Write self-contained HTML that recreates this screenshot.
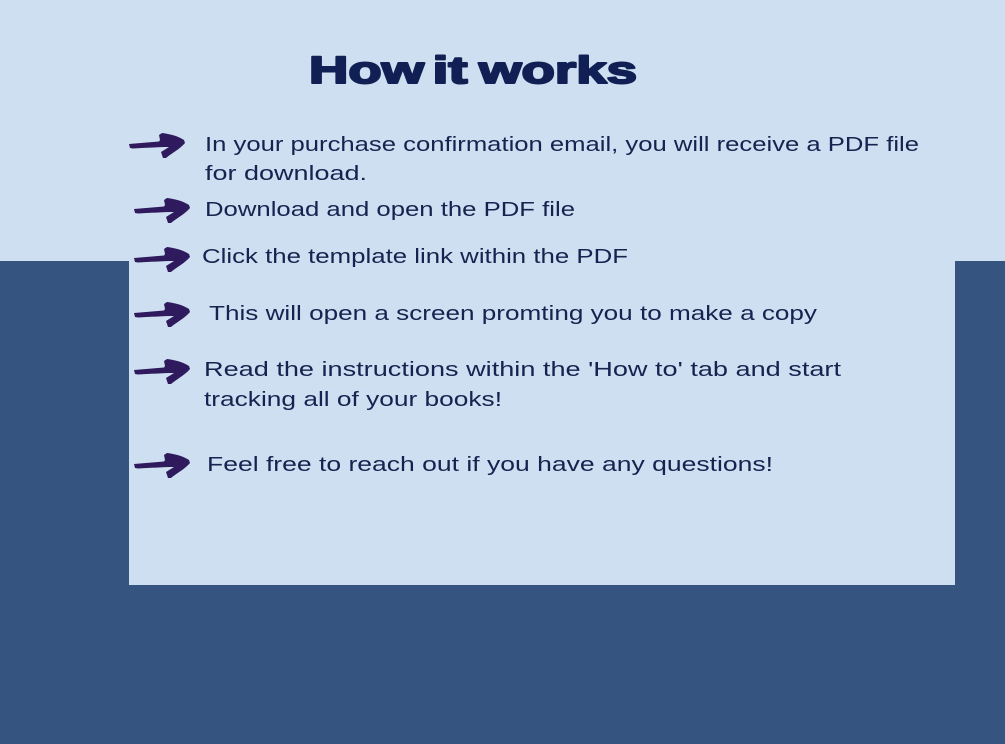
<!DOCTYPE html>
<html>
<head>
<meta charset="utf-8">
<style>
html,body{margin:0;padding:0;background:#cddff0;width:1005px;height:744px;overflow:hidden}
svg{display:block}
text{font-family:"Liberation Sans",sans-serif;fill:#16224f;font-size:20.5px}
.h{font-size:38px;font-weight:bold;fill:#101f54;stroke:#101f54;stroke-width:2px;stroke-linejoin:round}
.a path{fill:#2f1a5e}
</style>
</head>
<body>
<svg width="1005" height="744" viewBox="0 0 1005 744" xmlns="http://www.w3.org/2000/svg">
<defs>
<g id="ar" class="a">
<path d="M-1 1 L29 -1.5 L30 -3 L29 -8 L32 -10 C40 -9 48 -7 54 -3 L55 0 C50 6 42 10 36 15 L33 15 L31 9 L39 4 C28 4 14 5 3 5.5 L0 5 Z"/>
</g>
</defs>
<rect x="0" y="0" width="1005" height="744" fill="#cddff0"/>
<rect x="0" y="261" width="1005" height="483" fill="#355480"/>
<rect x="129" y="261" width="826" height="324" fill="#cddff0"/>

<text class="h" x="309" y="83" textLength="115" lengthAdjust="spacingAndGlyphs">How</text>
<text class="h" x="432.5" y="83" textLength="35" lengthAdjust="spacingAndGlyphs">it</text>
<text class="h" x="479" y="83" textLength="158" lengthAdjust="spacingAndGlyphs">works</text>

<use href="#ar" x="130" y="143"/>
<use href="#ar" x="135" y="208"/>
<use href="#ar" x="135" y="257"/>
<use href="#ar" x="135" y="312"/>
<use href="#ar" x="135" y="369"/>
<use href="#ar" x="135" y="463"/>

<text x="205" y="151" textLength="714" lengthAdjust="spacingAndGlyphs">In your purchase confirmation email, you will receive a PDF file</text>
<text x="205" y="180" textLength="162" lengthAdjust="spacingAndGlyphs">for download.</text>
<text x="205" y="216" textLength="370" lengthAdjust="spacingAndGlyphs">Download and open the PDF file</text>
<text x="202" y="263" textLength="426" lengthAdjust="spacingAndGlyphs">Click the template link within the PDF</text>
<text x="209" y="320" textLength="608" lengthAdjust="spacingAndGlyphs">This will open a screen promting you to make a copy</text>
<text x="204" y="376" textLength="637" lengthAdjust="spacingAndGlyphs">Read the instructions within the 'How to' tab and start</text>
<text x="204" y="406" textLength="298" lengthAdjust="spacingAndGlyphs">tracking all of your books!</text>
<text x="207" y="471" textLength="566" lengthAdjust="spacingAndGlyphs">Feel free to reach out if you have any questions!</text>
</svg>
</body>
</html>
